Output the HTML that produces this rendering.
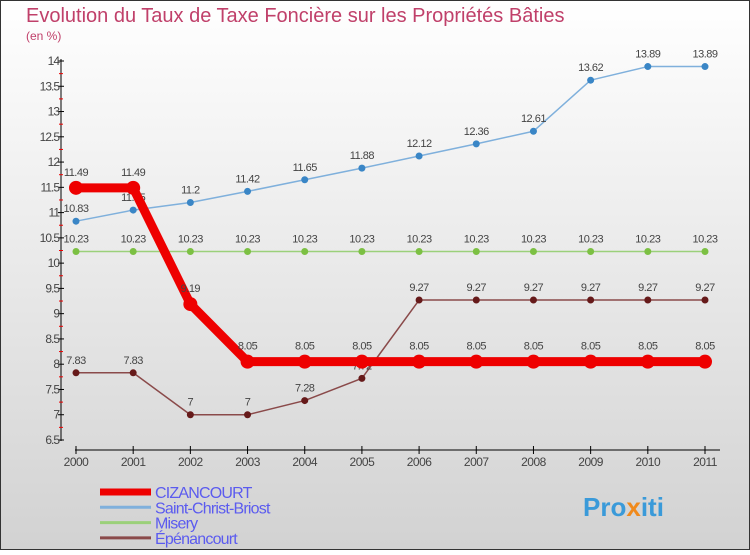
<!DOCTYPE html>
<html><head><meta charset="utf-8"><style>
body{margin:0}
#c{width:750px;height:550px;position:relative;font-family:"Liberation Sans",sans-serif;}
</style></head><body>
<div id="c">
<svg width="750" height="550" id="svg">
<defs><linearGradient id="bg" x1="0" y1="0" x2="0" y2="1"><stop offset="0" stop-color="#ffffff"/><stop offset="1" stop-color="#d2d2d2"/></linearGradient></defs>
<rect x="0.5" y="0.5" width="749" height="549" fill="url(#bg)" stroke="#333"/>
<text x="26" y="22" font-size="20" fill="#c0406a">Evolution du Taux de Taxe Foncière sur les Propriétés Bâties</text>
<text x="26" y="40" font-size="12" fill="#c0406a">(en %)</text>
<g id="axes"></g>
<g id="series"></g>
<g id="legend"></g>
<text x="583" y="516" font-size="26" font-weight="bold" fill="#3a9ad9">Pro<tspan fill="#f08a1c">x</tspan>iti</text>
</svg>
</div>
<script>
const years=[2000,2001,2002,2003,2004,2005,2006,2007,2008,2009,2010,2011];
const cizancourt=[11.49,11.49,9.19,8.05,8.05,8.05,8.05,8.05,8.05,8.05,8.05,8.05];
const saintChrist=[10.83,11.05,11.2,11.42,11.65,11.88,12.12,12.36,12.61,13.62,13.89,13.89];
const misery=[10.23,10.23,10.23,10.23,10.23,10.23,10.23,10.23,10.23,10.23,10.23,10.23];
const epenancourt=[7.83,7.83,7,7,7.28,7.72,9.27,9.27,9.27,9.27,9.27,9.27];
const yTicks=[6.5,7,7.5,8,8.5,9,9.5,10,10.5,11,11.5,12,12.5,13,13.5,14];
const seriesNames=["CIZANCOURT","Saint-Christ-Briost","Misery","Épénancourt"];
const NS="http://www.w3.org/2000/svg";
const x=i=>76+(705-76)*i/(years.length-1);
const y=v=>440-(v-6.5)*(440-61)/(14-6.5);
function mk(tag,attrs,parent,txt){const e=document.createElementNS(NS,tag);for(const k in attrs)e.setAttribute(k,attrs[k]);if(txt!==undefined)e.textContent=txt;parent.appendChild(e);return e;}
const axes=document.getElementById('axes');
let ya=mk('line',{x1:61,y1:59,x2:61,y2:441,stroke:'#000','stroke-width':1},axes);


yTicks.forEach(t=>{
 const major=Math.abs(t*2%2)<0.01;
 let l=mk('line',{x1:58,x2:64,y1:y(t),y2:y(t),stroke:'#000'},axes);
 
 
 let tx=mk('text',{x:59,y:y(t)+4,'font-size':12,fill:'#444','text-anchor':'end','letter-spacing':'-1'},axes,String(t));
 
 
 if(t<14){let m=mk('line',{x1:59,x2:63,y1:y(t+0.25),y2:y(t+0.25),stroke:'#e00'},axes);
 
 }
});
let xa=mk('line',{x1:75,y1:450,x2:720,y2:450,stroke:'#000'},axes);


years.forEach((yr,i)=>{
 let l=mk('line',{x1:x(i),x2:x(i),y1:446,y2:454,stroke:'#000'},axes);
 
 
 let t=mk('text',{x:x(i),y:466,'font-size':12,fill:'#444','text-anchor':'middle','letter-spacing':'-0.5'},axes,String(yr));
 
 
});
const seriesDefs=[
 {d:misery,c:'#9bd07a',w:1.5,r:3.5,pc:'#7cc043',lbl:true},
 {d:saintChrist,c:'#7fb0dc',w:1.5,r:3.5,pc:'#3a86c6',lbl:true},
 {d:epenancourt,c:'#8a4a4a',w:1.5,r:3.5,pc:'#661a1a',lbl:true},
 {d:cizancourt,c:'#ee0000',w:9,r:7,pc:'#ee0000',lbl:true}
];
const sg=document.getElementById('series');
seriesDefs.forEach(s=>{
 const g=mk('g',{},sg);
 
 
 const p=mk('polyline',{points:s.d.map((v,i)=>x(i)+','+y(v)).join(' '),fill:'none',stroke:s.c,'stroke-width':s.w,'stroke-linejoin':'round'},g);
 
 
 s.d.forEach((v,i)=>{
  const c=mk('circle',{cx:x(i),cy:y(v),r:s.r,fill:s.pc},g);
  
  
  const t=mk('text',{x:x(i),y:y(v)-(s.r>5?12:9),'font-size':11,fill:'#444','text-anchor':'middle','letter-spacing':'-0.5'},g,String(v));
  
  
 });
});
const lg=document.getElementById('legend');
const legCol=['#ee0000','#7fb0dc','#9bd07a','#8a4a4a'];
const legW=[7,3,3,3];
seriesNames.forEach((n,i)=>{
 const yy=492+i*15.3;
 const l=mk('line',{x1:100,x2:151,y1:yy,y2:yy,stroke:legCol[i],'stroke-width':legW[i]},lg);
 
 
 const t=mk('text',{x:155,y:yy+6,'font-size':16,fill:'#5b5bef','letter-spacing':'-0.8'},lg,n);
 
 
});
</script>
</body></html>
